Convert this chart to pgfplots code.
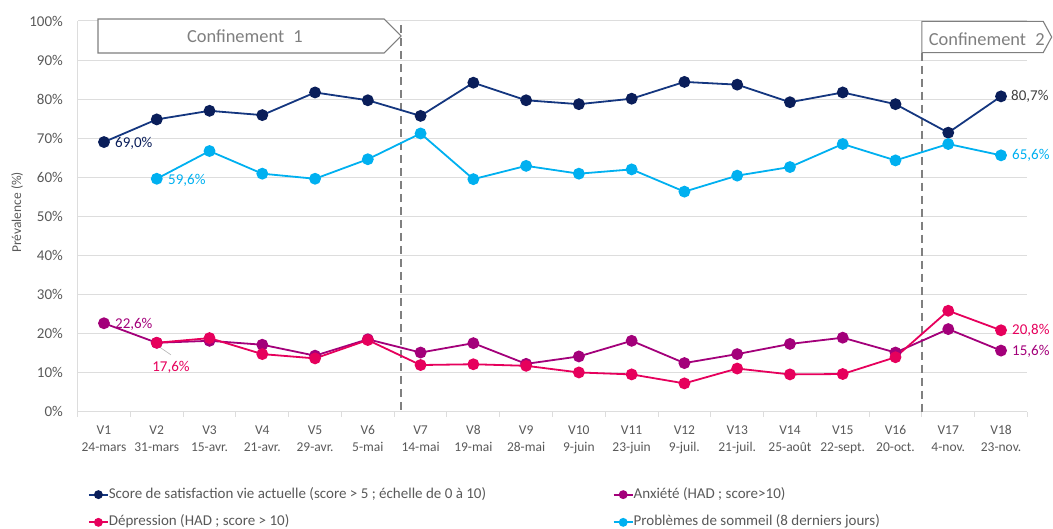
\documentclass[border=0pt]{standalone}
\usepackage{pgfplots}
\pgfplotsset{compat=1.18}
\usepackage{pgfplotstable}
\usepackage{fontspec}
\setmainfont{Carlito}
\definecolor{navyL}{HTML}{14367F}
\definecolor{navyM}{HTML}{0A1E5A}
\definecolor{sky}{HTML}{00B0F0}
\definecolor{purp}{HTML}{A3007A}
\definecolor{pinkc}{HTML}{E6005C}
\definecolor{txt}{HTML}{595959}
\definecolor{gridc}{HTML}{DDDDDD}
\definecolor{dashc}{HTML}{808080}
\definecolor{boxc}{HTML}{7F7F7F}
\pgfplotstableread{
x sat anx dep sleep
1 69.0 22.6 nan nan
2 74.8 17.6 17.6 59.6
3 77.0 18.1 18.8 66.7
4 75.9 17.1 14.7 60.9
5 81.7 14.3 13.6 59.6
6 79.7 18.5 18.3 64.6
7 75.7 15.1 11.9 71.2
8 84.2 17.5 12.1 59.5
9 79.7 12.2 11.7 62.9
10 78.7 14.1 10.0 60.9
11 80.1 18.1 9.5 62.0
12 84.4 12.4 7.2 56.3
13 83.7 14.7 11.0 60.4
14 79.2 17.3 9.5 62.6
15 81.7 18.9 9.6 68.5
16 78.7 15.1 13.9 64.3
17 71.4 21.1 25.8 68.5
18 80.7 15.6 20.8 65.6
}\data
\begin{document}
\begin{tikzpicture}
\path[use as bounding box] (-77.6bp,-117.5bp) rectangle (975.4bp,411.5bp);
\begin{axis}[
  scale only axis, width=949.8bp, height=390.5bp,
  at={(0,0)}, anchor=south west,
  xmin=0.5, xmax=18.5, ymin=0, ymax=100,
  clip=false,
  axis lines*=left,
  axis line style={gridc, line width=1bp},
  ytick={0,10,...,100},
  yticklabel={\pgfmathprintnumber{\tick}\%},
  /pgf/number format/assume math mode=true,
  ymajorgrids, grid style={gridc, line width=1bp},
  major tick length=0bp, minor tick length=5bp,
  tick align=outside,
  ytick style={draw=none},
  major x tick style={draw=none},
  minor xtick={0.5,1.5,...,18.5},
  minor x tick style={gridc, line width=1bp},
  xtick={1,...,18},
  xticklabels={{V1\\24-mars},{V2\\31-mars},{V3\\15-avr.},{V4\\21-avr.},{V5\\29-avr.},{V6\\5-mai},{V7\\14-mai},{V8\\19-mai},{V9\\28-mai},{V10\\9-juin},{V11\\23-juin},{V12\\9-juil.},{V13\\21-juil.},{V14\\25-août},{V15\\22-sept.},{V16\\20-oct.},{V17\\4-nov.},{V18\\23-nov.}},
  xticklabel style={font=\fontsize{13.5bp}{17bp}\selectfont, text=txt, align=center, anchor=north, inner sep=0pt, yshift=-14bp},
  yticklabel style={font=\fontsize{15bp}{18bp}\selectfont, text=txt, anchor=east, inner sep=0pt, xshift=-14.5bp},
  ylabel={Prévalence (\%)},
  every axis y label/.style={at={(rel axis cs:-0.0637,0.51)}, rotate=90, anchor=center, font=\fontsize{13.5bp}{16bp}\selectfont, text=txt},
  legend columns=2,
  legend cell align=left,
  legend style={draw=none, fill=none, inner sep=0pt, outer sep=0pt,
    at={(rel axis cs:0.01095,-0.1937)}, anchor=north west,
    font=\fontsize{15bp}{18bp}\selectfont, text=txt,
    row sep=12.7bp, column sep=0bp,
    nodes={inner sep=0pt, text height=11bp, text depth=4bp}},
  legend image code/.code={
    \draw[mark repeat=2, mark phase=2, #1, mark size=3.5bp] plot coordinates {(0bp,0bp) (9.5bp,0bp) (19bp,0bp)};
  },
]
% dashed separators and boxes
\draw[dashc, line width=1.8bp, dash pattern=on 8bp off 5bp] (axis cs:6.63,99) -- (axis cs:6.63,0);
\draw[dashc, line width=1.8bp, dash pattern=on 8bp off 5bp] (axis cs:16.5,91.9) -- (axis cs:16.5,0);
\draw[boxc, line width=1.1bp, fill=white] (axis cs:0.887,100.5) -- (axis cs:6.31,100.5) -- (axis cs:6.63,96.16) -- (axis cs:6.31,91.8) -- (axis cs:0.887,91.8) -- cycle;
\node[text=boxc, font=\fontsize{18.4bp}{20bp}\selectfont, inner sep=0pt] at (axis cs:3.67,96.0) {Confinement\hspace{0.5em}1};
\draw[boxc, line width=1.1bp, fill=white] (axis cs:16.5,99.9) -- (axis cs:18.80,99.9) -- (axis cs:18.96,95.9) -- (axis cs:18.80,91.9) -- (axis cs:16.5,91.9) -- cycle;
\node[text=boxc, font=\fontsize{18.4bp}{20bp}\selectfont, inner sep=0pt] at (axis cs:17.73,95.4) {Confinement\hspace{0.5em}2};

\addplot[color=navyL, line width=1.8bp, mark=*, mark size=5bp, mark options={fill=navyM, draw=navyM}] table[x=x, y=sat]{\data};
\addlegendentry{\makebox[504bp][l]{Score de satisfaction vie actuelle (score > 5 ; échelle de 0 à 10)}}
\addplot[color=purp, line width=1.8bp, mark=*, mark size=5bp, mark options={fill=purp, draw=purp}] table[x=x, y=anx]{\data};
\addlegendentry{Anxiété (HAD ; score>10)}
\addplot[color=pinkc, line width=1.8bp, mark=*, mark size=5bp, mark options={fill=pinkc, draw=pinkc}] table[x=x, y=dep]{\data};
\addlegendentry{\makebox[504bp][l]{Dépression (HAD ; score > 10)}}
\addplot[color=sky, line width=1.8bp, mark=*, mark size=5bp, mark options={fill=sky, draw=sky}] table[x=x, y=sleep]{\data};
\addlegendentry{Problèmes de sommeil (8 derniers jours)}

% data labels
\tikzset{dl/.style={inner sep=0pt, anchor=west, font=\fontsize{15bp}{18bp}\selectfont}}
\node[dl, text=navyM, xshift=11bp] at (axis cs:1,68.7) {69,0\%};
\node[dl, text=sky, xshift=11.3bp] at (axis cs:2,59.3) {59,6\%};
\node[dl, text=purp, xshift=11bp] at (axis cs:1,22.2) {22,6\%};
\draw[gray!60, line width=0.6bp] (axis cs:2.0,17.0) -- (axis cs:2.27,14.5);
\node[inner sep=0pt, font=\fontsize{15bp}{18bp}\selectfont, text=pinkc] at (axis cs:2.27,11.4) {17,6\%};
\node[dl, text=black!75, xshift=10bp] at (axis cs:18,80.6) {80,7\%};
\node[dl, text=sky, xshift=11bp] at (axis cs:18,65.5) {65,6\%};
\node[dl, text=pinkc, xshift=11bp] at (axis cs:18,20.7) {20,8\%};
\node[dl, text=purp, xshift=11bp] at (axis cs:18,15.5) {15,6\%};
\end{axis}
\end{tikzpicture}
\end{document}
